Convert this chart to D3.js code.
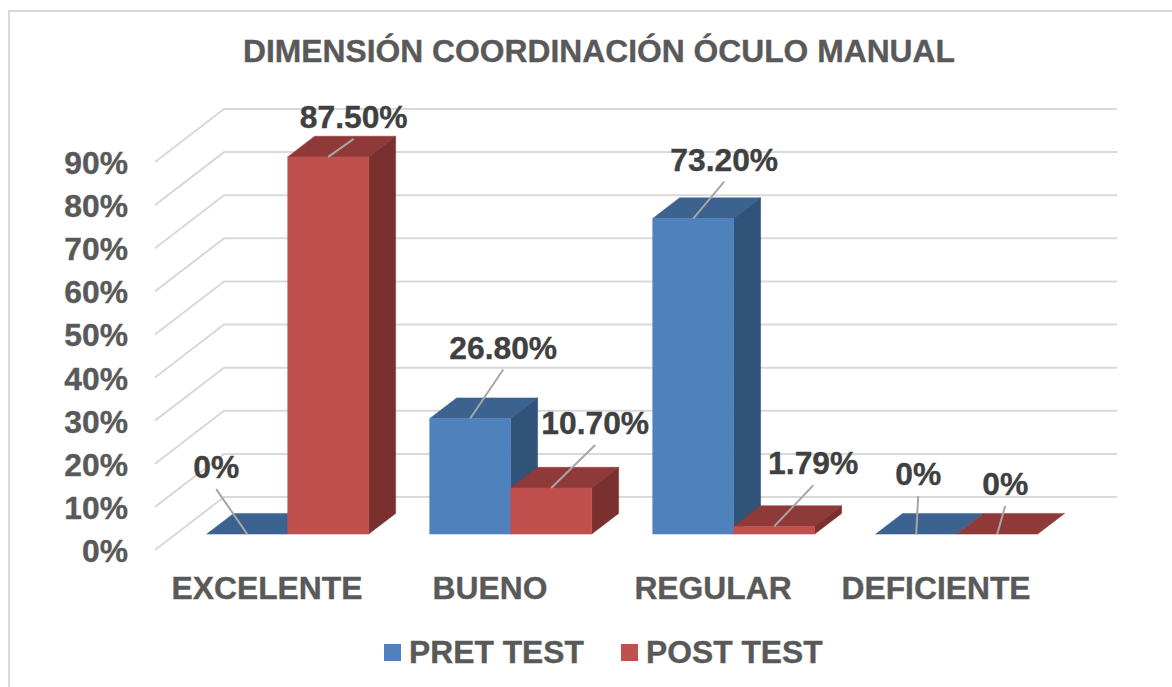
<!DOCTYPE html>
<html><head><meta charset="utf-8">
<script src="https://cdn.jsdelivr.net/npm/d3@7"></script>
<style>html,body{margin:0;padding:0;background:#fff}svg{display:block}text{font-family:"Liberation Sans",Arial,sans-serif;font-weight:700;stroke-width:.35}</style>
</head><body><svg id="c" width="1172" height="687"></svg>
<script>
const title = "DIMENSIÓN COORDINACIÓN ÓCULO MANUAL";
const categories = ["EXCELENTE","BUENO","REGULAR","DEFICIENTE"];
const seriesNames = ["PRET TEST","POST TEST"];
const pretTest = [0,26.8,73.2,0];
const postTest = [87.5,10.7,1.79,0];
const pretLabels = ["0%","26.80%","73.20%","0%"];
const postLabels = ["87.50%","10.70%","1.79%","0%"];
const yTicks = [0,10,20,30,40,50,60,70,80,90];
const colors = {face:["#4f81bd","#c0504d"],top:["#3c6390","#8f3a38"],side:["#315279","#7a302e"]};
// label placement relative to bar top centre (layout, not data)
const pretLabelPos = [[-31,-56],[33,-60],[31,-48],[2,-49]];
const postLabelPos = [[25.5,-29],[44,-54],[39,-52],[8,-39]];

const svg = d3.select("#c");
const ink = "#595959", dark = "#404040";
const fs = 31.8;
svg.append("rect").attr("x",9).attr("y",11).attr("width",1180).attr("height",700).attr("fill","#fff").attr("stroke","#d9d9d9").attr("stroke-width",2);

const x = d3.scaleBand().domain(categories).range([155.5,1047.5]);
const y = d3.scaleLinear().domain([0,90]).range([550,162]);
const depthX = d3.scaleLinear().domain([0,1]).range([0,69]);
const depthY = d3.scaleLinear().domain([0,1]).range([0,-53]);
const P = (px,v,d)=>[px+depthX(d), y(v)+depthY(d)];
const inner = d3.scaleBand().domain([0,1]).range([-81,81]);
const d0=0.3, d1=0.69;

// gridlines
const g = svg.append("g");
yTicks.forEach(t=>{
  const a=P(155,t,0), b=P(155,t,1), c=P(1048,t,1);
  g.append("path").attr("d",d3.line()([a,b,c])).attr("fill","none").attr("stroke","#d9d9d9").attr("stroke-width",2);
});
g.append("g").selectAll("text").data(yTicks).join("text")
 .attr("x",128).attr("y",d=>y(d)+12).attr("text-anchor","end").attr("font-size",fs).attr("fill",ink).attr("stroke",ink).text(d=>d+"%");

// bars
const bars=[];
categories.forEach((c,i)=>{[pretTest,postTest].forEach((s,k)=>bars.push({c,i,k,v:s[i]}));});
const bg = svg.append("g");
const line=d3.line();
const poly=(pts,f)=>bg.append("path").attr("d",line(pts)+"Z").attr("fill",f).attr("stroke",f).attr("stroke-width",.5);
bars.forEach(b=>{
  const l=x(b.c)+x.bandwidth()/2+inner(b.k), r=l+inner.bandwidth();
  b.l=l;b.r=r;
  poly([P(l,b.v,d0),P(l,b.v,d1),P(r,b.v,d1),P(r,b.v,d0)],colors.top[b.k]);
  if(b.v>0){
    poly([P(r,0,d0),P(r,0,d1),P(r,b.v,d1),P(r,b.v,d0)],colors.side[b.k]);
    poly([P(l,0,d0),P(r,0,d0),P(r,b.v,d0),P(l,b.v,d0)],colors.face[b.k]);
  }
});
// leader lines + labels
const lg=svg.append("g");
const labelOf=[pretLabels,postLabels], posOf=[pretLabelPos,postLabelPos];
bars.forEach(b=>{
  const [fx,fy]=P((b.l+b.r)/2,b.v,d0);
  const [ox,oy]=posOf[b.k][b.i];
  const tx=fx+ox, ty=fy+oy;
  lg.append("line").attr("x1",fx).attr("y1",fy).attr("x2",tx).attr("y2",ty+11).attr("stroke","#a6a6a6").attr("stroke-width",2);
  lg.append("text").attr("x",tx).attr("y",ty).attr("text-anchor","middle").attr("font-size",fs).attr("fill",dark).attr("stroke",dark).text(labelOf[b.k][b.i]);
});
// category labels
svg.append("g").selectAll("text").data(categories).join("text")
 .attr("x",d=>x(d)+x.bandwidth()/2).attr("y",599).attr("text-anchor","middle").attr("font-size",fs).attr("fill",ink).attr("stroke",ink).text(d=>d);
// title
svg.append("text").attr("x",599).attr("y",62).attr("text-anchor","middle").attr("font-size",fs).attr("fill",ink).attr("stroke",ink).text(title);
// legend
const legX=[384,621];
seriesNames.forEach((n,i)=>{
  svg.append("rect").attr("x",legX[i]).attr("y",644).attr("width",17).attr("height",17).attr("fill",colors.face[i]);
  svg.append("text").attr("x",legX[i]+25).attr("y",663).attr("font-size",fs).attr("fill",ink).attr("stroke",ink).text(n);
});
</script></body></html>
